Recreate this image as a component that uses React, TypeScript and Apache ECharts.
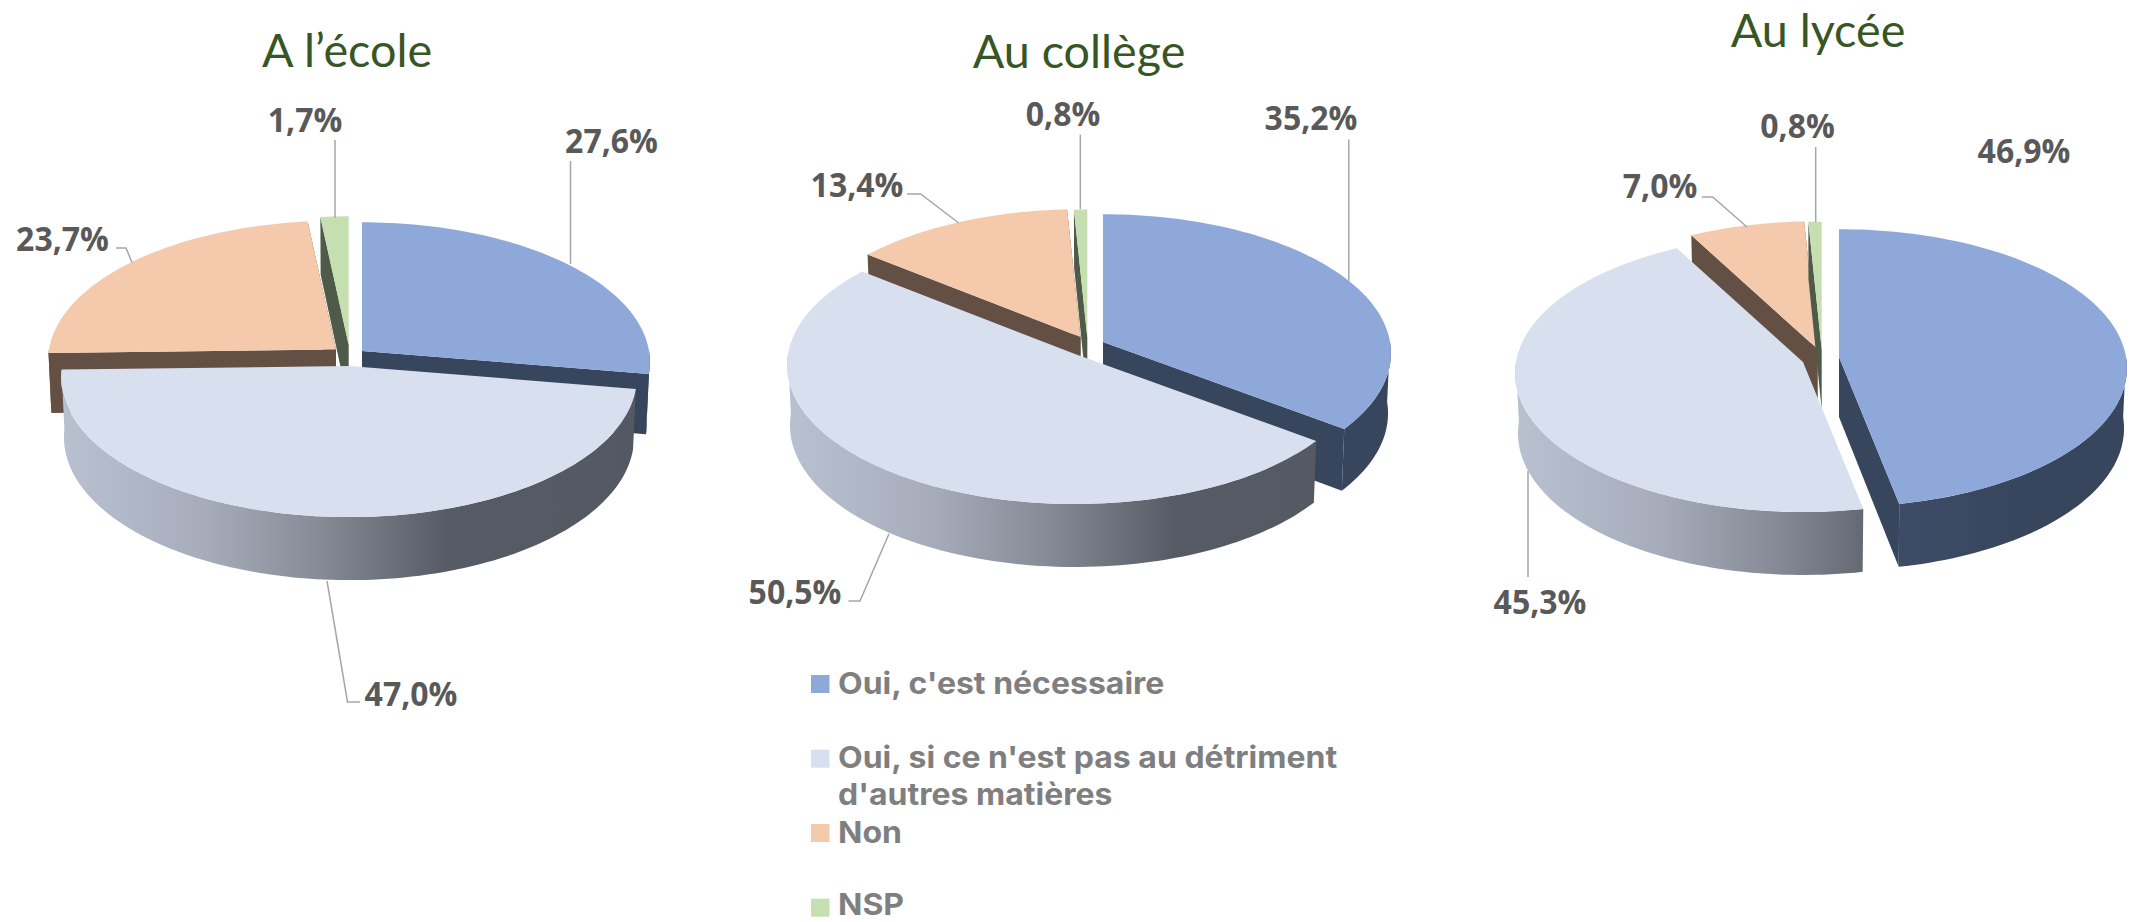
import React, { useEffect, useRef } from "react";
import * as echarts from "echarts";

const categories = ["Oui, c'est nécessaire", "Oui, si ce n'est pas au détriment\nd'autres matières", "Non", "NSP"];
const titles = ["A l’école", "Au collège", "Au lycée"];
const ecoleValues = [27.6, 47.0, 23.7, 1.7];
const collegeValues = [35.2, 50.5, 13.4, 0.8];
const lyceeValues = [46.9, 45.3, 7.0, 0.8];

const topColors = ["#8EA8D9", "#D8DFEE", "#F4C9AC", "#C5DFB1"];
const wallColors = ["#37465C", "#5A5E68", "#634F43", "#4F5B48"];
const paintOrder = [0, 2, 3, 1];

const RX = 287;
const DEPTH = 60;
const PERSP = 0.08;

type Pt = number[];
const layouts = [
  {
    values: ecoleValues, ry: 139, wallLeft: 61,
    title: [342, 46],
    apex: [[362, 351], [349, 366], [336, 349.5], [348.7, 345]],
    labels: [[611.5, 140], [411, 693], [62.5, 238], [305, 119]],
    leaders: [
      [[570.5, 161], [570.5, 264]],
      [[327, 581], [347.5, 702], [360, 702]],
      [[116, 248], [126, 248], [132, 262.5]],
      [[335, 140], [335, 218]],
    ],
  },
  {
    values: collegeValues, ry: 138, wallLeft: 788,
    title: [1074, 47],
    apex: [[1103, 342], [1075, 354], [1080.5, 337], [1087.3, 337.3]],
    labels: [[1311, 117], [795, 591], [857, 184], [1063, 113]],
    leaders: [
      [[1348.8, 139.5], [1348.8, 280.7]],
      [[848.5, 601], [860, 601], [889, 533.7]],
      [[907, 194], [920.6, 194], [958.7, 223]],
      [[1080.3, 134.6], [1080.3, 209]],
    ],
  },
  {
    values: lyceeValues, ry: 138, wallLeft: 1516,
    title: [1813, 26],
    apex: [[1839, 357], [1803, 362], [1817.5, 349], [1821.7, 349.5]],
    labels: [[2024, 150], [1540, 601], [1660, 185], [1797.5, 125.5]],
    leaders: [
      [],
      [[1528, 471], [1528, 577]],
      [[1701.7, 197], [1712.7, 197], [1747, 227]],
      [[1815.7, 147], [1815.7, 222]],
    ],
  },
];

const legendRows = [684, 758.7, 833, 907.7];

function project(apex: Pt, ry: number, deg: number, kx = 1, ky = 1): Pt {
  const t = (deg * Math.PI) / 180;
  const u = Math.sin(t);
  const v = Math.cos(t);
  const s = 1 / (1 + PERSP * v);
  return [apex[0] + RX * u * s * kx, apex[1] - ry * v * s * ky];
}

function arc(apex: Pt, ry: number, from: number, to: number, kx = 1, ky = 1): Pt[] {
  const out: Pt[] = [];
  const n = Math.max(2, Math.ceil(Math.abs(to - from) / 1.5));
  for (let i = 0; i <= n; i++) out.push(project(apex, ry, from + ((to - from) * i) / n, kx, ky));
  return out;
}

function pieSeries(idx: number) {
  const lay = layouts[idx];
  const total = lay.values.reduce((a, b) => a + b, 0);
  return {
    type: "custom",
    name: titles[idx],
    coordinateSystem: "none",
    silent: true,
    clip: false,
    data: paintOrder.map((i) => ({ name: categories[i], value: [lay.values[i], i] })),
    renderItem: (_p: any, api: any) => {
      const i = api.value(1) as number;
      const before = lay.values.slice(0, i).reduce((a, b) => a + b, 0);
      const a0 = (before / total) * 360;
      const a1 = ((before + api.value(0)) / total) * 360;
      const apex = lay.apex[i];
      const low = [apex[0], apex[1] + DEPTH];
      const KX = 0.99;
      const KY = 1.02;
      const ry = lay.ry;
      const wx0 = lay.wallLeft;
      const wx1 = wx0 + 2 * RX;
      const children: any[] = [];
      const wallFill =
        i === 1
          ? new echarts.graphic.LinearGradient(wx0, 0, wx1, 0, [
              { offset: 0, color: "#B9C1D1" },
              { offset: 0.25, color: "#A6ACBA" },
              { offset: 0.45, color: "#868B96" },
              { offset: 0.67, color: "#575B65" },
              { offset: 1, color: "#545862" },
            ], true)
          : i === 0
          ? new echarts.graphic.LinearGradient(apex[0], 0, apex[0] + RX, 0, [
              { offset: 0, color: "#3F4D6A" },
              { offset: 0.4, color: "#3B4963" },
              { offset: 0.6, color: "#37465C" },
              { offset: 1, color: "#37465C" },
            ], true)
          : wallColors[i];
      // the two cut faces
      if (i !== 1) {
        [a0, a1].forEach((a) => {
          const top = project(apex, ry, a);
          const bot = project(low, ry, a, KX, KY);
          children.push({
            type: "polygon",
            shape: { points: [apex, top, bot, low] },
            style: { fill: wallColors[i] },
          });
        });
      }
      // the outer wall, on the front half only
      const f0 = Math.max(a0, 90);
      const f1 = Math.min(a1, 270);
      if (f1 > f0) {
        const upper = arc(apex, ry, f0, f1);
        const lower = arc(low, ry, f1, f0, KX, KY);
        children.push({
          type: "polygon",
          shape: { points: upper.concat(lower) },
          style: { fill: wallFill },
        });
      }
      // the top face
      children.push({
        type: "polygon",
        shape: { points: [apex].concat(arc(apex, ry, a0, a1)) },
        style: { fill: topColors[i] },
      });
      // leader and value label
      if (lay.leaders[i].length) {
        children.push({
          type: "polyline",
          shape: { points: lay.leaders[i] },
          style: { stroke: "#A6A6A6", lineWidth: 1.5, fill: "none" },
        });
      }
      children.push({
        type: "text",
        x: lay.labels[i][0],
        y: lay.labels[i][1],
        scaleY: 1.05,
        style: {
          text: (api.value(0) as number).toFixed(1).replace(".", ",") + "%",
          font: "700 32px 'Open Sans'",
          fill: "#595959",
          align: "center",
          verticalAlign: "middle",
        },
      });
      return { type: "group", children };
    },
  };
}

export default function App() {
  const ref = useRef<HTMLDivElement>(null);
  useEffect(() => {
    document.body.style.margin = "0";
    const chart = echarts.init(ref.current!, undefined, { renderer: "svg" });
    const legend: any[] = [];
    categories.forEach((c, i) => {
      legend.push({
        type: "rect",
        shape: { x: 811, y: legendRows[i] - 9, width: 18.5, height: 18 },
        style: { fill: topColors[i] },
      });
      c.split("\n").forEach((line, j) => {
        legend.push({
          type: "text",
          x: 838,
          y: legendRows[i] - (i === 3 ? 3 : 1) + j * 37,
          scaleX: 1.085,
          scaleY: 1.03,
          style: {
            text: line,
            font: "700 29.5px Inter",
            lineHeight: 27,
            fill: "#7F7F7F",
            align: "left",
            verticalAlign: "middle",
          },
        });
      });
    });
    chart.setOption({
      animation: false,
      backgroundColor: "#ffffff",
      title: layouts.map((l, i) => ({
        text: titles[i],
        left: l.title[0],
        top: l.title[1] - 26,
        textAlign: "center",
        textStyle: { color: "#375623", fontFamily: "Lato", fontWeight: 400, fontSize: 46.7 },
      })),
      graphic: legend,
      series: layouts.map((_, i) => pieSeries(i)),
    });
    return () => chart.dispose();
  }, []);
  return <div ref={ref} style={{ position: "absolute", left: 0, top: 0, width: 2133, height: 922 }} />;
}
